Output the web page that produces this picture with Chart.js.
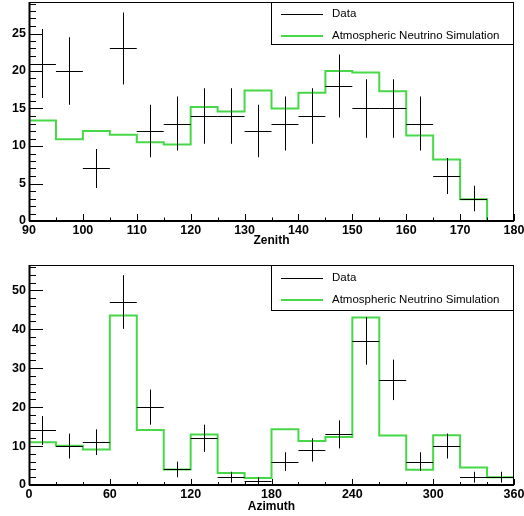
<!DOCTYPE html>
<html lang="en">
<head>
    <meta charset="UTF-8">
    <title>Zenith / Azimuth</title>
    <script src="https://cdn.jsdelivr.net/npm/chart.js"></script>
    <style>
        body { margin: 0; background: #ffffff; }
        canvas { display: block; }
    </style>
</head>
<body>
    <canvas id="zenith" width="524" height="258"></canvas>
    <canvas id="azimuth" width="524" height="258"></canvas>

    <script>
        // Zenith histogram (bin edges, data counts, errors, simulation)
        const zenithEdges = [90, 95, 100, 105, 110, 115, 120, 125, 130, 135, 140, 145, 150, 155, 160, 165, 170, 175, 180];
        const zenithData  = [21, 20, 7, 23, 12, 13, 14, 14, 12, 13, 14, 18, 15, 15, 13, 6, 3, 0];
        const zenithErr   = [4.6, 4.5, 2.6, 4.8, 3.5, 3.6, 3.7, 3.7, 3.5, 3.6, 3.7, 4.2, 3.9, 3.9, 3.6, 2.4, 1.7, 0];
        const zenithSim   = [13.4, 10.9, 12.0, 11.5, 10.5, 10.2, 15.2, 14.6, 17.4, 15.0, 17.1, 20.0, 19.8, 17.3, 11.4, 8.2, 2.9, 0];
        const zenithXTicks = [90, 100, 110, 120, 130, 140, 150, 160, 170, 180];
        const zenithYTicks = [0, 5, 10, 15, 20, 25];

        // Azimuth histogram
        const azimuthEdges = [0, 20, 40, 60, 80, 100, 120, 140, 160, 180, 200, 220, 240, 260, 280, 300, 320, 340, 360];
        const azimuthData  = [14, 10, 11, 47, 20, 4, 12, 2, 1, 6, 9, 13, 37, 27, 6, 10, 2, 2];
        const azimuthErr   = [3.7, 3.2, 3.3, 6.9, 4.5, 2.0, 3.5, 1.4, 1.0, 2.4, 3.0, 3.6, 6.1, 5.2, 2.4, 3.2, 1.4, 1.4];
        const azimuthSim   = [11.0, 10.1, 9.1, 43.5, 14.1, 4.0, 13.0, 3.1, 1.8, 14.3, 11.3, 12.3, 43.0, 12.7, 3.9, 12.8, 4.5, 2.0];
        const azimuthXTicks = [0, 60, 120, 180, 240, 300, 360];
        const azimuthYTicks = [0, 10, 20, 30, 40, 50];

        const legendLabels = ['Data', 'Atmospheric Neutrino Simulation'];
        const simColor = '#46d846';
        const tickFont = { family: '"Liberation Sans", Arial, sans-serif', size: 12.5, weight: 'bold' };

        // ROOT-like frame, inner ticks, data crosses and legend
        const rootStyle = {
            id: 'rootStyle',
            afterDatasetsDraw(chart, args, o) {
                const { ctx, chartArea: a, scales: { x, y } } = chart;
                ctx.save();

                // data points with error bars
                ctx.strokeStyle = '#000';
                ctx.lineWidth = 1;
                o.counts.forEach((n, i) => {
                    if (!n) return;
                    const x0 = x.getPixelForValue(o.edges[i]);
                    const x1 = x.getPixelForValue(o.edges[i + 1]);
                    const xc = Math.round((x0 + x1) / 2) + 0.5;
                    const yc = Math.round(y.getPixelForValue(n)) + 0.5;
                    ctx.beginPath();
                    ctx.moveTo(x0, yc); ctx.lineTo(x1, yc);
                    ctx.moveTo(xc, y.getPixelForValue(n + o.errors[i]));
                    ctx.lineTo(xc, Math.min(y.getPixelForValue(n - o.errors[i]), a.bottom));
                    ctx.stroke();
                });

                // frame
                ctx.lineWidth = 1;
                ctx.strokeRect(a.left + 0.5, a.top + 0.5, a.right - a.left - 1, a.bottom - a.top - 1);
                ctx.lineWidth = 2;
                ctx.beginPath();
                ctx.moveTo(a.left, a.bottom); ctx.lineTo(a.right, a.bottom);
                ctx.moveTo(a.left + 0.5, a.top); ctx.lineTo(a.left + 0.5, a.bottom);
                ctx.stroke();

                // ticks
                ctx.lineWidth = 1;
                ctx.beginPath();
                for (let v = o.xMin; v <= o.xMax + 1e-9; v += o.xMinor) {
                    const px = Math.round(x.getPixelForValue(v)) + 0.5;
                    const len = o.xTicks.includes(v) ? o.xMajorLen : o.xMajorLen / 2;
                    ctx.moveTo(px, a.bottom); ctx.lineTo(px, a.bottom - len);
                }
                for (let v = 0; v <= o.yMax; v += o.yMinor) {
                    const py = Math.round(y.getPixelForValue(v)) + 0.5;
                    const len = o.yTicks.includes(v) ? 14 : 7;
                    ctx.moveTo(a.left, py); ctx.lineTo(a.left + len, py);
                }
                ctx.stroke();

                // legend
                const lx = 271, ly = a.top, lw = a.right - lx, lh = o.legendH;
                ctx.fillStyle = '#fff';
                ctx.fillRect(lx, ly, lw, lh);
                ctx.strokeStyle = '#000';
                ctx.strokeRect(lx + 0.5, ly + 0.5, lw - 1, lh - 1);
                const rows = [ly + o.rowY[0], ly + o.rowY[1]];
                ctx.beginPath();
                ctx.moveTo(281, Math.round(rows[0]) + 0.5); ctx.lineTo(323, Math.round(rows[0]) + 0.5);
                ctx.stroke();
                ctx.strokeStyle = simColor;
                ctx.lineWidth = 2;
                ctx.beginPath();
                ctx.moveTo(281, Math.round(rows[1])); ctx.lineTo(323, Math.round(rows[1]));
                ctx.stroke();
                ctx.fillStyle = '#000';
                ctx.font = '11.5px "Liberation Sans", Arial, sans-serif';
                ctx.textBaseline = 'middle';
                ctx.fillText(legendLabels[0], 332, rows[0]);
                ctx.fillText(legendLabels[1], 332, rows[1]);
                ctx.restore();
            }
        };

        function makeChart(id, edges, counts, errors, sim, xTicks, yTicks, yMax, title, s) {
            const steps = edges.map((e, i) => ({ x: e, y: sim[Math.min(i, sim.length - 1)] }));
            return new Chart(document.getElementById(id), {
                type: 'scatter',
                data: {
                    datasets: [{
                        data: steps,
                        showLine: true,
                        stepped: true,
                        borderColor: simColor,
                        borderWidth: 2,
                        pointRadius: 0,
                        fill: false
                    }]
                },
                options: {
                    responsive: false,
                    animation: false,
                    devicePixelRatio: 1,
                    layout: { padding: { top: s.top, right: 10, left: 0, bottom: 0 } },
                    scales: {
                        x: {
                            type: 'linear',
                            min: edges[0],
                            max: edges[edges.length - 1],
                            afterBuildTicks: sc => { sc.ticks = xTicks.map(v => ({ value: v })); },
                            afterFit: sc => { sc.height = s.xHeight; sc.paddingLeft = 0; sc.paddingRight = 0; },
                            grid: { display: false, drawTicks: false },
                            border: { display: false },
                            ticks: { color: '#000', font: tickFont, padding: 2, maxRotation: 0, autoSkip: false },
                            title: {
                                display: true, text: title, color: '#000',
                                font: { family: tickFont.family, size: 12, weight: 'bold' },
                                padding: { top: 0, bottom: s.titlePad }
                            }
                        },
                        y: {
                            min: 0,
                            max: yMax,
                            afterBuildTicks: sc => { sc.ticks = yTicks.map(v => ({ value: v })); },
                            afterFit: sc => { sc.width = 29; sc.paddingTop = 0; sc.paddingBottom = 0; },
                            grid: { display: false, drawTicks: false },
                            border: { display: false },
                            ticks: { color: '#000', font: tickFont, padding: 3 }
                        }
                    },
                    plugins: {
                        legend: { display: false },
                        tooltip: { enabled: false },
                        rootStyle: {
                            edges, counts, errors, xTicks, yTicks, yMax,
                            xMin: edges[0], xMax: edges[edges.length - 1],
                            xMinor: s.xMinor, yMinor: s.yMinor, xMajorLen: s.xMajorLen,
                            legendH: s.legendH, rowY: s.rowY
                        }
                    }
                },
                plugins: [rootStyle]
            });
        }

        makeChart('zenith', zenithEdges, zenithData, zenithErr, zenithSim, zenithXTicks, zenithYTicks, 29.2, 'Zenith',
            { top: 2, xHeight: 37, titlePad: 10, xMinor: 5, yMinor: 1, xMajorLen: 7, legendH: 43, rowY: [12, 34] });
        makeChart('azimuth', azimuthEdges, azimuthData, azimuthErr, azimuthSim, azimuthXTicks, azimuthYTicks, 56.5, 'Azimuth',
            { top: 7, xHeight: 31, titlePad: 2.5, xMinor: 20, yMinor: 2, xMajorLen: 6, legendH: 46, rowY: [13, 34.5] });
    </script>
</body>
</html>
